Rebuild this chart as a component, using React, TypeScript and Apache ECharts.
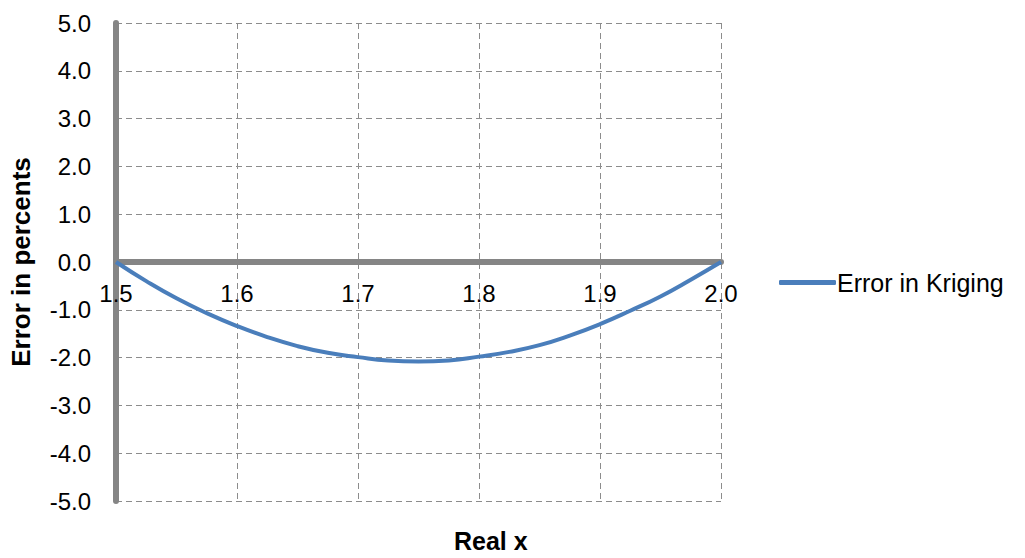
import React, { useEffect, useRef } from "react";
import * as echarts from "echarts";

const xValues = [1.5, 1.525, 1.55, 1.575, 1.6, 1.625, 1.65, 1.675, 1.7, 1.725, 1.75, 1.775, 1.8, 1.825, 1.85, 1.875, 1.9, 1.925, 1.95, 1.975, 2.0];
const errorValues = [0, -0.4, -0.76, -1.07, -1.34, -1.57, -1.76, -1.9, -1.99, -2.06, -2.08, -2.06, -1.98, -1.88, -1.74, -1.54, -1.3, -1.02, -0.72, -0.37, 0];
const seriesName = "Error in Kriging";
const xTitle = "Real x";
const yTitle = "Error in percents";

const FONT = "Liberation Sans";

export default function App() {
  const ref = useRef<HTMLDivElement>(null);
  useEffect(() => {
    if (!ref.current) return;
    const chart = echarts.init(ref.current, undefined, { renderer: "svg" });
    chart.setOption({
      animation: false,
      backgroundColor: "#ffffff",
      textStyle: { fontFamily: FONT, fontSize: 24 },
      grid: { left: 115, right: 304, top: 23, bottom: 57, containLabel: false },
      legend: {
        data: [seriesName],
        left: 779,
        top: 270,
        icon: "roundRect",
        itemWidth: 57,
        itemHeight: 5,
        itemGap: 0,
        padding: 0,
        textStyle: { fontSize: 25, color: "#000", fontFamily: FONT, padding: [0, 0, 0, -4] },
      },
      xAxis: {
        type: "value",
        min: 1.5,
        max: 2.0,
        interval: 0.1,
        offset: -239,
        axisLine: { onZero: false, lineStyle: { color: "#858585", width: 6 } },
        axisTick: { show: false },
        axisLabel: {
          color: "#000",
          fontSize: 24,
          fontFamily: FONT,
          margin: 19,
          formatter: (v: number) => v.toFixed(1),
          showMinLabel: true,
          showMaxLabel: true,
        },
        splitLine: { show: true, lineStyle: { color: "#8c8c8c", type: [6, 4], width: 1 } },
      },
      yAxis: {
        type: "value",
        min: -5,
        max: 5,
        interval: 1,
        name: yTitle,
        nameLocation: "middle",
        nameGap: 82,
        nameTextStyle: { fontSize: 26, fontWeight: "bold", color: "#000", fontFamily: FONT },
        axisLine: { onZero: false, lineStyle: { color: "#858585", width: 6 } },
        axisTick: { show: false },
        axisLabel: {
          color: "#000",
          fontSize: 24,
          fontFamily: FONT,
          margin: 25,
          formatter: (v: number) => v.toFixed(1),
        },
        splitLine: { show: true, lineStyle: { color: "#8c8c8c", type: [6, 4], width: 1 } },
      },
      graphic: [
        {
          type: "text",
          left: 454,
          top: 528,
          style: { text: xTitle, fontSize: 25, fontWeight: "bold", fill: "#000", fontFamily: FONT },
        },
      ],
      series: [
        {
          name: seriesName,
          type: "line",
          smooth: true,
          symbol: "none",
          data: xValues.map((x, i) => [x, errorValues[i]]),
          lineStyle: { color: "#4a7ebb", width: 4 },
          itemStyle: { color: "#4a7ebb" },
          z: 5,
        },
      ],
    });
    return () => chart.dispose();
  }, []);
  return <div ref={ref} style={{ position: "fixed", left: 0, top: 0, width: 1025, height: 558 }} />;
}
